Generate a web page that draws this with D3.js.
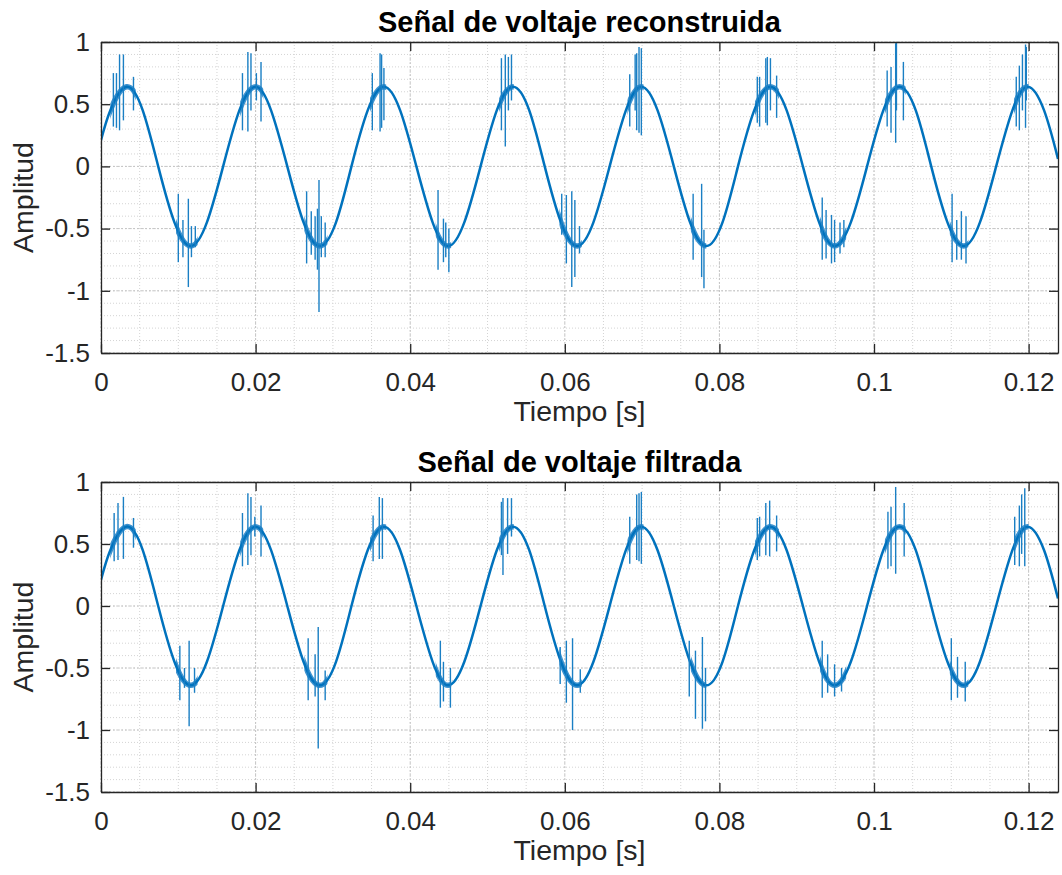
<!DOCTYPE html>
<html>
<head>
<meta charset="utf-8">
<script src="https://cdn.jsdelivr.net/npm/d3@7"></script>
<style>
  body { margin: 0; background: #fff; }
  svg { display: block; }
  text { font-family: "Liberation Sans", Arial, Helvetica, sans-serif; }
</style>
</head>
<body>
<svg id="chart" width="1062" height="875"></svg>
<script>
// axis ticks
const xTicks = [0, 0.02, 0.04, 0.06, 0.08, 0.1, 0.12]
const yTicks = [-1.5, -1, -0.5, 0, 0.5, 1]
const tEnd = 0.1238

// base waveform, read every 1/8 cycle off the picture
const baseTime = [0, 0.0012, 0.0033, 0.0054, 0.0074, 0.0095, 0.0116, 0.0137,
  0.0158, 0.0179, 0.0200, 0.0220, 0.0241, 0.0262, 0.0283, 0.0304,
  0.0324, 0.0345, 0.0366, 0.0387, 0.0408, 0.0429, 0.0449, 0.0470,
  0.0491, 0.0512, 0.0533, 0.0554, 0.0574, 0.0595, 0.0616, 0.0637,
  0.0658, 0.0679, 0.0699, 0.0720, 0.0741, 0.0762, 0.0783, 0.0804,
  0.0824, 0.0845, 0.0866, 0.0887, 0.0908, 0.0929, 0.0949, 0.0970,
  0.0991, 0.1012, 0.1033, 0.1054, 0.1074, 0.1095, 0.1116, 0.1137,
  0.1158, 0.1179, 0.1199, 0.1220, 0.1238]
const baseAmp = [0.21, 0.45, 0.64, 0.45, 0, -0.45, -0.64, -0.45,
  0, 0.45, 0.64, 0.45, 0, -0.45, -0.64, -0.45,
  0, 0.45, 0.64, 0.45, 0, -0.45, -0.64, -0.45,
  0, 0.45, 0.64, 0.45, 0, -0.45, -0.64, -0.45,
  0, 0.45, 0.64, 0.45, 0, -0.45, -0.64, -0.45,
  0, 0.45, 0.64, 0.45, 0, -0.45, -0.64, -0.45,
  0, 0.45, 0.64, 0.45, 0, -0.45, -0.64, -0.45,
  0, 0.45, 0.64, 0.45, 0.06]

// time spans where the trace is visibly noisy (thicker)
const noisySpans = [[0.0012, 0.0045], [0.0097, 0.0125], [0.0180, 0.0210], [0.0263, 0.0293],
  [0.0348, 0.0369], [0.0433, 0.0453], [0.0515, 0.0534], [0.0593, 0.0622],
  [0.0681, 0.0702], [0.0763, 0.0783], [0.0846, 0.0877], [0.0930, 0.0964],
  [0.1014, 0.1041], [0.1098, 0.1122], [0.1181, 0.1200]]

// spikes [time, low, high]
const reconSpikes = [
  [0.0016, 0.32, 0.75], [0.0020, 0.31, 0.75], [0.0024, 0.29, 0.90], [0.0029, 0.37, 0.90], [0.0042, 0.45, 0.72],
  [0.0100, -0.77, -0.22], [0.0106, -0.73, -0.43], [0.0113, -0.97, -0.26], [0.0117, -0.73, -0.48], [0.0122, -0.65, -0.48],
  [0.0183, 0.29, 0.75], [0.0190, 0.28, 0.92], [0.0194, 0.45, 0.91], [0.0201, 0.53, 0.75], [0.0207, 0.36, 0.84],
  [0.0266, -0.78, -0.20], [0.0272, -0.71, -0.36], [0.0277, -0.75, -0.40], [0.0280, -0.83, -0.34], [0.0282, -1.17, -0.11], [0.0285, -0.73, -0.40], [0.0290, -0.73, -0.45],
  [0.0351, 0.29, 0.75], [0.0361, 0.28, 0.91], [0.0363, 0.31, 0.90], [0.0366, 0.37, 0.79],
  [0.0436, -0.83, -0.19], [0.0443, -0.77, -0.42], [0.0446, -0.73, -0.45], [0.0450, -0.85, -0.50],
  [0.0518, 0.29, 0.87], [0.0523, 0.16, 0.90], [0.0527, 0.45, 0.88], [0.0531, 0.53, 0.90],
  [0.0596, -0.55, -0.22], [0.0602, -0.78, -0.23], [0.0609, -0.97, -0.20], [0.0613, -0.89, -0.27], [0.0619, -0.70, -0.48],
  [0.0684, 0.32, 0.74], [0.0691, 0.45, 0.90], [0.0693, 0.29, 0.91], [0.0696, 0.27, 0.96], [0.0699, 0.25, 0.95],
  [0.0766, -0.75, -0.22], [0.0777, -0.89, -0.14], [0.0780, -0.98, -0.51],
  [0.0849, 0.35, 0.72], [0.0852, 0.32, 0.72], [0.0860, 0.35, 0.87], [0.0862, 0.33, 0.88], [0.0866, 0.45, 0.87], [0.0874, 0.39, 0.73],
  [0.0933, -0.75, -0.25], [0.0938, -0.74, -0.35], [0.0945, -0.78, -0.39], [0.0949, -0.77, -0.43], [0.0956, -0.70, -0.45], [0.0961, -0.65, -0.43],
  [0.1017, 0.32, 0.77], [0.1022, 0.27, 0.80], [0.1028, 0.19, 0.99], [0.1029, 0.45, 1.00], [0.1038, 0.37, 0.84],
  [0.1101, -0.77, -0.22], [0.1107, -0.75, -0.43], [0.1113, -0.75, -0.36], [0.1119, -0.78, -0.40],
  [0.1184, 0.32, 0.72], [0.1188, 0.29, 0.81], [0.1192, 0.45, 0.90], [0.1196, 0.31, 0.98], [0.1197, 0.53, 0.96]
]
const filtSpikes = [
  [0.0017, 0.36, 0.75], [0.0022, 0.37, 0.83], [0.0029, 0.38, 0.88], [0.0042, 0.47, 0.71],
  [0.0102, -0.76, -0.32], [0.0108, -0.66, -0.50], [0.0114, -0.97, -0.28], [0.0121, -0.70, -0.50],
  [0.0183, 0.32, 0.75], [0.0190, 0.33, 0.91], [0.0194, 0.41, 0.88], [0.0199, 0.56, 0.72], [0.0207, 0.40, 0.81],
  [0.0268, -0.76, -0.26], [0.0277, -0.73, -0.39], [0.0281, -1.15, -0.17], [0.0290, -0.76, -0.52],
  [0.0352, 0.36, 0.73], [0.0360, 0.38, 0.88], [0.0364, 0.38, 0.87],
  [0.0439, -0.82, -0.28], [0.0443, -0.77, -0.45], [0.0452, -0.82, -0.50],
  [0.0518, 0.41, 0.84], [0.0520, 0.25, 0.87], [0.0526, 0.42, 0.87], [0.0531, 0.56, 0.87],
  [0.0594, -0.63, -0.33], [0.0602, -0.78, -0.28], [0.0610, -1.00, -0.26], [0.0620, -0.70, -0.51],
  [0.0684, 0.34, 0.72], [0.0693, 0.37, 0.90], [0.0696, 0.36, 0.91], [0.0699, 0.34, 0.92],
  [0.0761, -0.73, -0.28], [0.0769, -0.91, -0.36], [0.0778, -0.99, -0.25], [0.0782, -0.93, -0.50],
  [0.0849, 0.37, 0.71], [0.0852, 0.40, 0.72], [0.0860, 0.41, 0.83], [0.0865, 0.40, 0.85], [0.0874, 0.44, 0.73],
  [0.0933, -0.74, -0.28], [0.0940, -0.70, -0.39], [0.0949, -0.73, -0.47], [0.0958, -0.69, -0.50],
  [0.1018, 0.30, 0.76], [0.1022, 0.32, 0.80], [0.1028, 0.26, 0.96], [0.1039, 0.40, 0.83],
  [0.1100, -0.76, -0.26], [0.1108, -0.74, -0.41], [0.1118, -0.77, -0.45],
  [0.1182, 0.33, 0.72], [0.1188, 0.32, 0.81], [0.1191, 0.42, 0.90], [0.1195, 0.32, 0.95]
]

const blue = '#0072BD'
const axisColor = '#262626'
const svg = d3.select('#chart')
const base = baseTime.map((t, i) => [t, baseAmp[i]])

function panel (top, h, title, spikes, id) {
  const left = 101, right = 1058
  const x = d3.scaleLinear().domain([0, tEnd]).range([left, right])
  const y = d3.scaleLinear().domain([-1.5, 1]).range([top + h, top])
  const g = svg.append('g')

  svg.append('clipPath').attr('id', id)
    .append('rect').attr('x', left).attr('y', top).attr('width', right - left).attr('height', h)
  const noisyClip = svg.append('clipPath').attr('id', id + 'n')
  noisyClip.selectAll('rect').data(noisySpans).enter().append('rect')
    .attr('x', d => x(d[0])).attr('width', d => x(d[1]) - x(d[0]))
    .attr('y', top).attr('height', h)

  // minor grid
  const xMinor = d3.range(0, tEnd, 0.005)
  const yMinor = d3.range(-1.5, 1.0001, 0.1)
  g.selectAll('.vmin').data(xMinor).enter().append('line')
    .attr('x1', d => x(d)).attr('x2', d => x(d)).attr('y1', top).attr('y2', top + h)
    .attr('stroke', '#d4d4d4').attr('stroke-width', 1).attr('stroke-dasharray', '1,2')
  g.selectAll('.hmin').data(yMinor).enter().append('line')
    .attr('y1', d => y(d)).attr('y2', d => y(d)).attr('x1', left).attr('x2', right)
    .attr('stroke', '#d4d4d4').attr('stroke-width', 1).attr('stroke-dasharray', '1,2')
  // major grid
  g.selectAll('.vmaj').data(xTicks).enter().append('line')
    .attr('x1', d => x(d)).attr('x2', d => x(d)).attr('y1', top).attr('y2', top + h)
    .attr('stroke', '#c4c4c4').attr('stroke-width', 1).attr('stroke-dasharray', '2,2')
  g.selectAll('.hmaj').data(yTicks).enter().append('line')
    .attr('y1', d => y(d)).attr('y2', d => y(d)).attr('x1', left).attr('x2', right)
    .attr('stroke', '#c4c4c4').attr('stroke-width', 1).attr('stroke-dasharray', '2,2')

  const plot = g.append('g').attr('clip-path', `url(#${id})`)
  const line = d3.line().x(d => x(d[0])).y(d => y(d[1])).curve(d3.curveNatural)
  plot.append('g').attr('clip-path', `url(#${id}n)`)
    .append('path').datum(base)
    .attr('d', line).attr('fill', 'none').attr('stroke', '#3f93cf').attr('stroke-width', 5.5)
  plot.append('path').datum(base)
    .attr('d', line).attr('fill', 'none').attr('stroke', blue).attr('stroke-width', 2.5)
  plot.selectAll('.spike').data(spikes).enter().append('line')
    .attr('x1', d => x(d[0])).attr('x2', d => x(d[0]))
    .attr('y1', d => y(d[1])).attr('y2', d => y(d[2]))
    .attr('stroke', '#1a7fc4').attr('stroke-width', 1.4)

  // axes, ticks inside on all four sides
  const fmt = d => String(d)
  const axes = [
    [d3.axisBottom(x).tickValues(xTicks).tickFormat(fmt).tickPadding(20), `translate(0,${top + h})`],
    [d3.axisTop(x).tickValues(xTicks).tickFormat(''), `translate(0,${top})`],
    [d3.axisLeft(y).tickValues(yTicks).tickFormat(fmt).tickPadding(11), `translate(${left},0)`],
    [d3.axisRight(y).tickValues(yTicks).tickFormat(''), `translate(${right},0)`]
  ]
  axes.forEach(([ax, tr]) => {
    const a = g.append('g').attr('transform', tr)
      .call(ax.tickSizeInner(-9).tickSizeOuter(0))
    a.select('.domain').attr('stroke', axisColor).attr('stroke-width', 1.3)
    a.selectAll('.tick line').attr('stroke', axisColor).attr('stroke-width', 1.3)
    a.selectAll('.tick text').attr('fill', axisColor).style('font-size', '26px')
  })

  g.append('text').attr('x', (left + right) / 2).attr('y', top - 10)
    .attr('text-anchor', 'middle').style('font-size', '29px').style('font-weight', 'bold')
    .attr('fill', '#000').text(title)
  g.append('text').attr('x', (left + right) / 2).attr('y', top + h + 68)
    .attr('text-anchor', 'middle').style('font-size', '28.5px').attr('fill', axisColor)
    .text('Tiempo [s]')
  g.append('text').attr('transform', `translate(33,${top + h / 2}) rotate(-90)`)
    .attr('text-anchor', 'middle').style('font-size', '28.5px').attr('fill', axisColor)
    .text('Amplitud')
}

panel(42, 311, 'Señal de voltaje reconstruida', reconSpikes, 'clipA')
panel(482, 310, 'Señal de voltaje filtrada', filtSpikes, 'clipB')
</script>
</body>
</html>
